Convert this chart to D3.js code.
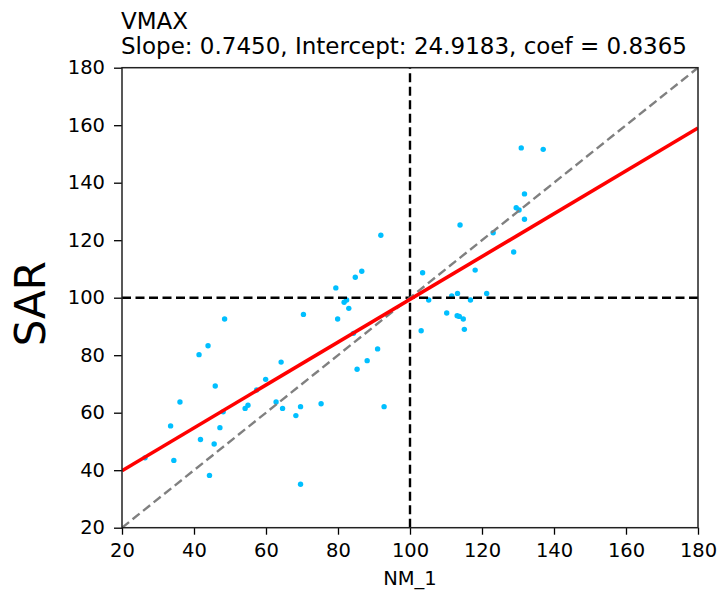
<!DOCTYPE html>
<html>
<head>
<meta charset="utf-8">
<script src="https://cdn.jsdelivr.net/npm/d3@7"></script>
<style>
  html, body { margin: 0; padding: 0; background: #fff; }
  svg { display: block; }
  text { font-family: "DejaVu Sans", sans-serif; fill: #000; }
</style>
</head>
<body>
<svg id="chart" width="720" height="590"></svg>
<script>
// ---- data ----
const nm1 = [26.4, 33.5, 34.4, 36.1, 41.4, 41.8, 43.9, 44.3, 45.6, 45.9,
             47.2, 48.1, 48.5, 54.2, 55.0, 57.4, 59.9, 62.8, 64.2, 64.6,
             68.3, 69.6, 69.6, 70.4, 75.3, 79.9, 79.4, 81.7, 82.4, 83.0,
             84.3, 84.8, 85.3, 86.6, 88.1, 91.0, 91.9, 92.8, 103.1, 103.5,
             105.2, 110.2, 111.6, 113.2, 113.1, 113.7, 114.8, 115.1, 116.8, 118.1,
             121.3, 113.9, 123.1, 128.8, 129.5, 130.3, 131.8, 131.8, 130.9, 137.0];
const sar = [44.3, 55.4, 43.4, 63.7, 80.2, 50.7, 83.3, 38.2, 49.1, 69.3,
             54.8, 60.3, 92.6, 61.5, 62.6, 67.9, 71.6, 63.7, 77.6, 61.5,
             59.0, 62.1, 35.1, 94.2, 63.1, 92.6, 103.4, 98.4, 99.2, 96.3,
             87.6, 107.1, 75.1, 109.2, 78.1, 82.2, 121.7, 62.1, 88.5, 108.7,
             99.2, 94.7, 100.6, 101.5, 93.7, 93.5, 92.6, 89.0, 99.2, 109.6,
             101.5, 125.3, 122.6, 115.9, 131.3, 130.5, 127.3, 136.1, 152.1, 151.6];
const slope = 0.7450;
const intercept = 24.9183;
const coef = 0.8365;
const refValue = 100;
const tickValues = [20, 40, 60, 80, 100, 120, 140, 160, 180];
const domainMin = 20, domainMax = 180;
const titleLine1 = "VMAX";
const titleLine2 = `Slope: ${slope.toFixed(4)}, Intercept: ${intercept.toFixed(4)}, coef = ${coef.toFixed(4)}`;
const xLabel = "NM_1";
const yLabel = "SAR";

// ---- layout ----
const svg = d3.select("#chart");
const L = 122, R = 698, T = 67.7, B = 527.7;
const x = d3.scaleLinear().domain([domainMin, domainMax]).range([L, R]);
const y = d3.scaleLinear().domain([domainMin, domainMax]).range([B, T]);

svg.append("defs").append("clipPath").attr("id", "clip")
  .append("rect").attr("x", L).attr("y", T).attr("width", R - L).attr("height", B - T);

const plot = svg.append("g").attr("clip-path", "url(#clip)");

// scatter
plot.selectAll("circle").data(nm1.map((v, i) => [v, sar[i]])).enter()
  .append("circle")
  .attr("cx", d => x(d[0])).attr("cy", d => y(d[1]))
  .attr("r", 2.7).attr("fill", "#00bfff");

// reference lines (black dashed)
plot.append("line")
  .attr("x1", x(refValue)).attr("x2", x(refValue)).attr("y1", y(domainMin)).attr("y2", y(domainMax))
  .attr("stroke", "#000").attr("stroke-width", 2.4).attr("stroke-dasharray", "9,4.5");
plot.append("line")
  .attr("x1", x(domainMin)).attr("x2", x(domainMax)).attr("y1", y(refValue)).attr("y2", y(refValue))
  .attr("stroke", "#000").attr("stroke-width", 2.4).attr("stroke-dasharray", "9,4.5");

// 1:1 line
plot.append("line")
  .attr("x1", x(domainMin)).attr("y1", y(domainMin)).attr("x2", x(domainMax)).attr("y2", y(domainMax))
  .attr("stroke", "#808080").attr("stroke-width", 2.4).attr("stroke-dasharray", "9,4.5");

// regression line
plot.append("line")
  .attr("x1", x(domainMin)).attr("y1", y(slope * domainMin + intercept))
  .attr("x2", x(domainMax)).attr("y2", y(slope * domainMax + intercept))
  .attr("stroke", "#ff0000").attr("stroke-width", 3.6);

// axes
const xAxis = svg.append("g").attr("transform", `translate(0,${B})`)
  .call(d3.axisBottom(x).tickValues(tickValues).tickSize(7).tickPadding(8.5).tickFormat(d3.format("d")));
const yAxis = svg.append("g").attr("transform", `translate(${L},0)`)
  .call(d3.axisLeft(y).tickValues(tickValues).tickSize(8).tickPadding(9).tickFormat(d3.format("d")));
[xAxis, yAxis].forEach(a => {
  a.select(".domain").remove();
  a.selectAll(".tick line").attr("stroke", "#000").attr("stroke-width", 1.3);
  a.selectAll(".tick text").attr("font-size", 19.5).attr("font-family", "DejaVu Sans").attr("fill", "#222");
});

// frame
svg.append("rect").attr("x", L).attr("y", T).attr("width", R - L).attr("height", B - T)
  .attr("fill", "none").attr("stroke", "#222").attr("stroke-width", 1.5);

// titles
svg.append("text").attr("x", L - 1).attr("y", 28.8).attr("font-size", 23).attr("fill", "#222").text(titleLine1);
svg.append("text").attr("x", L - 1).attr("y", 54).attr("font-size", 23).attr("fill", "#222").text(titleLine2);

svg.append("text").attr("x", (L + R) / 2).attr("y", 585).attr("text-anchor", "middle")
  .attr("font-size", 19.5).attr("fill", "#222").text(xLabel);

svg.append("text").attr("transform", `translate(45,${(T + B) / 2 + 6}) rotate(-90)`)
  .attr("text-anchor", "middle").attr("font-size", 42).text(yLabel);
</script>
</body>
</html>
